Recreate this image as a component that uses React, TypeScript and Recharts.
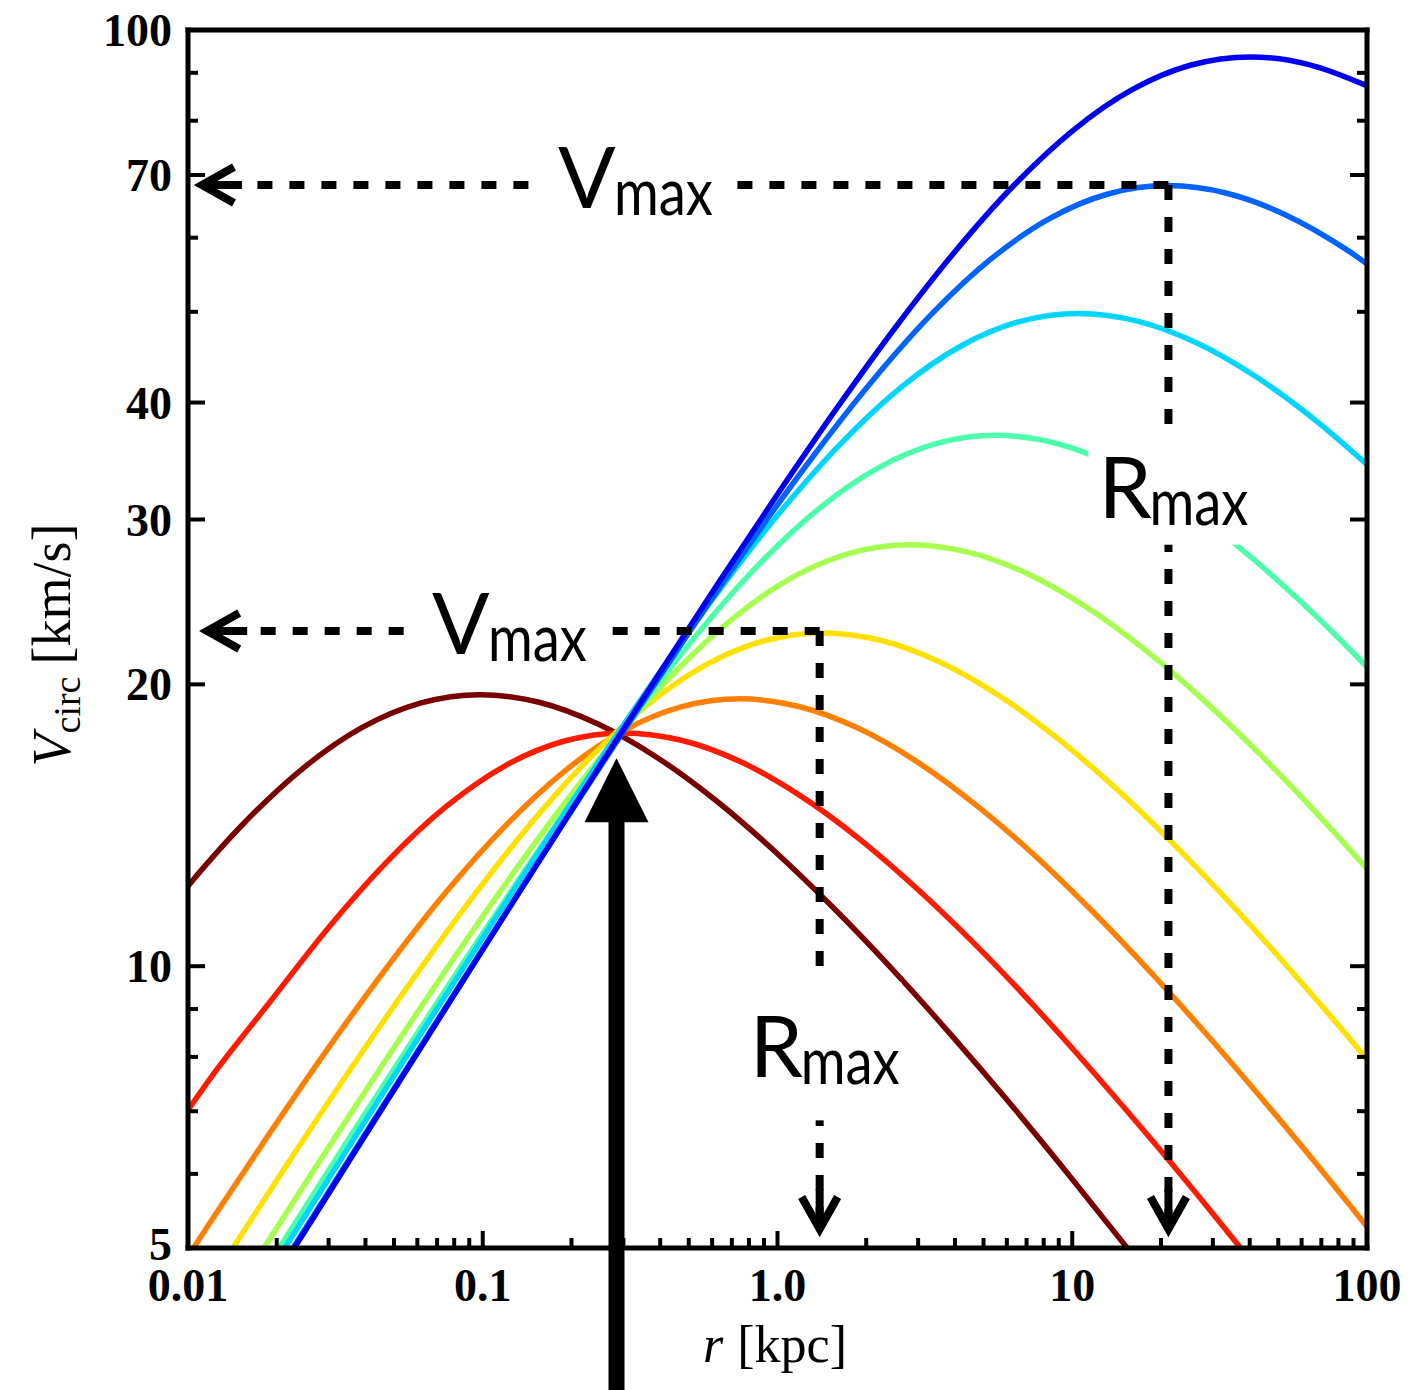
import { ComposedChart, Line, XAxis, YAxis, ReferenceLine, ReferenceDot } from 'recharts';

// Rotation curves: [r (kpc), Vcirc (km/s)]
const haloDarkRed: [number, number][] = [
  [0.00618, 10.05], [0.0098, 12.09], [0.01553, 14.23], [0.02462, 16.28], [0.03901, 17.99],
  [0.06183, 19.11], [0.098, 19.5], [0.1553, 19.14], [0.2462, 18.14], [0.3901, 16.71],
  [0.6183, 15.03], [0.98, 13.26], [1.553, 11.53], [2.462, 9.91], [3.901, 8.43],
  [6.183, 7.12], [9.8, 5.97], [15.53, 4.98], [24.62, 4.14],
];
const haloRed: [number, number][] = [
  [0.00754, 6.15], [0.01194, 7.6], [0.01893, 9.15], [0.03, 11.0], [0.04755, 12.95],
  [0.07536, 14.82], [0.1194, 16.38], [0.1893, 17.4], [0.3, 17.75], [0.4755, 17.42],
  [0.7536, 16.52], [1.194, 15.21], [1.893, 13.68], [3.0, 12.07], [4.755, 10.5],
  [7.536, 9.02], [11.94, 7.67], [18.93, 6.48], [30.0, 5.44], [47.55, 4.54],
];
const haloOrange: [number, number][] = [
  [0.00746, 4.25], [0.01182, 5.31], [0.01874, 6.6], [0.0297, 8.15], [0.04707, 9.95],
  [0.0746, 11.97], [0.1182, 14.08], [0.1874, 16.11], [0.297, 17.81], [0.4707, 18.92],
  [0.746, 19.3], [1.182, 18.94], [1.874, 17.96], [2.97, 16.54], [4.707, 14.87],
  [7.46, 13.13], [11.82, 11.41], [18.74, 9.8], [29.7, 8.34], [47.07, 7.04],
  [74.6, 5.91], [118.2, 4.93],
];
const haloYellow: [number, number][] = [
  [0.00896, 4.0], [0.0142, 5.0], [0.0225, 6.25], [0.03567, 7.77], [0.05653, 9.58],
  [0.0896, 11.7], [0.142, 14.07], [0.2251, 16.56], [0.3567, 18.95], [0.5653, 20.94],
  [0.896, 22.25], [1.42, 22.7], [2.251, 22.28], [3.567, 21.12], [5.653, 19.45],
  [8.96, 17.49], [14.2, 15.44], [22.51, 13.42], [35.67, 11.53], [56.53, 9.81],
  [89.6, 8.29], [142, 6.95],
];
const haloLime: [number, number][] = [
  [0.01123, 3.96], [0.01779, 4.96], [0.0282, 6.22], [0.04469, 7.76], [0.07084, 9.65],
  [0.1123, 11.91], [0.1779, 14.54], [0.282, 17.48], [0.4469, 20.58], [0.7084, 23.54],
  [1.123, 26.02], [1.779, 27.64], [2.82, 28.2], [4.469, 27.67], [7.084, 26.24],
  [11.23, 24.16], [17.79, 21.73], [28.2, 19.18], [44.69, 16.68], [70.84, 14.33],
  [112.3, 12.19],
];
const haloAqua: [number, number][] = [
  [0.01382, 4.12], [0.0219, 5.18], [0.0347, 6.5], [0.055, 8.13], [0.08717, 10.16],
  [0.1382, 12.62], [0.219, 15.58], [0.347, 19.02], [0.55, 22.88], [0.8717, 26.93],
  [1.382, 30.81], [2.19, 34.04], [3.47, 36.17], [5.5, 36.9], [8.717, 36.21],
  [13.82, 34.33], [21.9, 31.62], [34.7, 28.44], [55, 25.1], [87.17, 21.82],
  [138.2, 18.75],
];
const haloCyan: [number, number][] = [
  [0.01664, 4.42], [0.02638, 5.56], [0.0418, 6.99], [0.06625, 8.77], [0.105, 10.98],
  [0.1664, 13.71], [0.2637, 17.04], [0.418, 21.03], [0.6625, 25.68], [1.05, 30.88],
  [1.664, 36.34], [2.637, 41.58], [4.18, 45.94], [6.625, 48.82], [10.5, 49.8],
  [16.64, 48.87], [26.37, 46.34], [41.8, 42.67], [66.25, 38.38], [105, 33.87],
];
const haloAzure: [number, number][] = [
  [0.01331, 3.83], [0.0211, 4.82], [0.03344, 6.06], [0.053, 7.62], [0.084, 9.57],
  [0.1331, 12.01], [0.211, 15.04], [0.3344, 18.77], [0.53, 23.33], [0.84, 28.8],
  [1.331, 35.16], [2.11, 42.28], [3.344, 49.77], [5.3, 56.94], [8.4, 62.92],
  [13.31, 66.85], [21.1, 68.2], [33.44, 66.93], [53.0, 63.46], [84.0, 58.44],
  [133.1, 52.56],
];
const haloBlue: [number, number][] = [
  [0.01596, 4.18], [0.0253, 5.25], [0.0401, 6.61], [0.06355, 8.31], [0.1007, 10.45],
  [0.1596, 13.13], [0.253, 16.48], [0.401, 20.64], [0.6355, 25.77], [1.007, 32.02],
  [1.596, 39.52], [2.53, 48.26], [4.01, 58.03], [6.355, 68.3], [10.07, 78.14],
  [15.96, 86.35], [25.3, 91.75], [40.1, 93.6], [63.55, 91.85], [100.7, 87.09],
];

const haloCurves = [haloDarkRed, haloRed, haloOrange, haloYellow, haloLime, haloAqua, haloCyan, haloAzure, haloBlue];
const haloColors = ['#7a0000', '#ff1a00', '#ff7f00', '#ffe100', '#a5ff4f', '#4dffaa', '#00d5ff', '#0062ff', '#0000f0'];

// axis ticks
const xMajorTicks = [0.01, 0.1, 1, 10, 100];
const xTickLabels = ['0.01', '0.1', '1.0', '10', '100'];
const xMinorTicks = [
  0.02, 0.03, 0.04, 0.05, 0.06, 0.07, 0.08, 0.09,
  0.2, 0.3, 0.4, 0.5, 0.6, 0.7, 0.8, 0.9,
  2, 3, 4, 5, 6, 7, 8, 9,
  20, 30, 40, 50, 60, 70, 80, 90,
];
const yMajorTicks = [5, 10, 20, 30, 40, 70, 100];
const yTickLabels = ['5', '10', '20', '30', '40', '70', '100'];
const yMinorTicks = [6, 7, 8, 9, 50, 60, 80, 90];

// annotations: Vmax / Rmax of the two highlighted halos, and the pivot radius
const vmaxMarks = [68.3, 22.8];
const rmaxMarks = [21.2, 1.39];
const vmaxLabelR = [0.331, 0.1237];
const rmaxLabelV = [32.2, 8.13];
const arrowTipR = [0.01056, 0.011];
const arrowTipV = 5.15;
const pivotR = 0.2843;
const pivotTipV = 16.68;

const serif = '"Liberation Serif", "Times New Roman", serif';
const sans = 'Lato, "Noto Sans", sans-serif';

const W = 1411;
const H = 1390;

const tickStyle = { stroke: '#000', strokeWidth: 4 };

const BottomTick = (p: any) => {
  const i = xMajorTicks.indexOf(p.payload.value);
  return (
    <g>
      <line x1={p.x} y1={p.y} x2={p.x} y2={p.y - (i >= 0 ? 17 : 10)} {...tickStyle} />
      {i >= 0 && (
        <text x={p.x} y={p.y + 53} textAnchor="middle" fontFamily={serif} fontWeight="bold" fontSize={46} fill="#000">
          {xTickLabels[i]}
        </text>
      )}
    </g>
  );
};

const TopTick = (p: any) => {
  const major = xMajorTicks.indexOf(p.payload.value) >= 0;
  return <line x1={p.x} y1={p.y} x2={p.x} y2={p.y + (major ? 17 : 10)} {...tickStyle} />;
};

const LeftTick = (p: any) => {
  const i = yMajorTicks.indexOf(p.payload.value);
  // the bottom label sits a touch higher so it clears "0.01"
  const dy = i === 0 ? 12 : 16;
  return (
    <g>
      <line x1={p.x} y1={p.y} x2={p.x + (i >= 0 ? 17 : 10)} y2={p.y} {...tickStyle} />
      {i >= 0 && (
        <text x={p.x - 16} y={p.y + dy} textAnchor="end" fontFamily={serif} fontWeight="bold" fontSize={46} fill="#000">
          {yTickLabels[i]}
        </text>
      )}
    </g>
  );
};

const RightTick = (p: any) => {
  const major = yMajorTicks.indexOf(p.payload.value) >= 0;
  return <line x1={p.x} y1={p.y} x2={p.x - (major ? 17 : 10)} y2={p.y} {...tickStyle} />;
};

// dashed line ending in an open arrow head, drawn from (x1,y1) to the tip (x2,y2)
const DashedArrow = (p: any) => {
  const { x1, y1, x2, y2 } = p;
  const len = Math.hypot(x2 - x1, y2 - y1) || 1;
  const ux = (x2 - x1) / len;
  const uy = (y2 - y1) / len;
  const ax = x2 - ux * 7;
  const ay = y2 - uy * 7;
  const bx = ax - ux * 32;
  const by = ay - uy * 32;
  const nx = -uy * 18;
  const ny = ux * 18;
  return (
    <g stroke="#000" strokeWidth={8} fill="none">
      <line x1={x1} y1={y1} x2={ax} y2={ay} strokeDasharray="15 17" />
      <line x1={ax - ux * 40} y1={ay - uy * 40} x2={ax} y2={ay} />
      <polyline points={`${bx + nx},${by + ny} ${ax},${ay} ${bx - nx},${by - ny}`} strokeLinejoin="miter" />
    </g>
  );
};

const BigArrow = (p: any) => {
  const x = p.x2;
  const tip = p.y2;
  const base = tip + 64;
  return (
    <g>
      <rect x={x - 8} y={base - 1} width={16} height={p.y1 - base + 1} fill="#000" />
      <polygon points={`${x - 32},${base} ${x + 32},${base} ${x},${tip}`} fill="#000" />
    </g>
  );
};

const MaxLabel = ({ cx, cy, letter, box, mainDx, subDx, mainDy, subDy }: any) => (
  <g>
    <rect x={cx + box[0]} y={cy + box[1]} width={box[2]} height={box[3]} fill="#fff" />
    <text x={cx + mainDx} y={cy + mainDy} fontFamily={sans} fontSize={85} fill="#000">
      {letter}
    </text>
    <text x={cx + subDx} y={cy + subDy} fontFamily={sans} fontSize={63} fill="#000" textLength={99} lengthAdjust="spacingAndGlyphs">
      max
    </text>
  </g>
);

export default function App() {
  return (
    <div style={{ position: 'relative', width: W, height: H, background: '#fff' }}>
      <style>{'body{margin:0;overflow:hidden;background:#fff}'}</style>
      <ComposedChart width={W} height={H} margin={{ top: 0, right: 0, bottom: 0, left: 0 }}>
        <XAxis
          dataKey="r"
          type="number"
          scale="log"
          domain={[0.01, 100]}
          allowDataOverflow
          ticks={[...xMajorTicks, ...xMinorTicks]}
          interval={0}
          height={142}
          tickSize={0}
          tickMargin={0}
          tickLine={false}
          tick={BottomTick}
          axisLine={{ stroke: '#000', strokeWidth: 5, strokeLinecap: 'square' }}
        />
        <XAxis
          xAxisId="top"
          orientation="top"
          type="number"
          scale="log"
          domain={[0.01, 100]}
          allowDataOverflow
          ticks={[...xMajorTicks, ...xMinorTicks]}
          interval={0}
          height={30}
          tickSize={0}
          tickMargin={0}
          tickLine={false}
          tick={TopTick}
          axisLine={{ stroke: '#000', strokeWidth: 5, strokeLinecap: 'square' }}
        />
        <YAxis
          type="number"
          scale="log"
          domain={[5, 100]}
          allowDataOverflow
          ticks={[...yMajorTicks, ...yMinorTicks]}
          interval={0}
          width={188}
          tickSize={0}
          tickMargin={0}
          tickLine={false}
          tick={LeftTick}
          axisLine={{ stroke: '#000', strokeWidth: 5, strokeLinecap: 'square' }}
        />
        <YAxis
          yAxisId="right"
          orientation="right"
          type="number"
          scale="log"
          domain={[5, 100]}
          allowDataOverflow
          ticks={[...yMajorTicks, ...yMinorTicks]}
          interval={0}
          width={44}
          tickSize={0}
          tickMargin={0}
          tickLine={false}
          tick={RightTick}
          axisLine={{ stroke: '#000', strokeWidth: 5, strokeLinecap: 'square' }}
        />

        {haloCurves.map((pts, i) => (
          <Line
            key={i}
            data={pts.map(([r, v]) => ({ r, v }))}
            dataKey="v"
            type="monotone"
            stroke={haloColors[i]}
            strokeWidth={5.5}
            dot={false}
            activeDot={false}
            isAnimationActive={false}
          />
        ))}

        {vmaxMarks.map((v, i) => (
          <ReferenceLine
            key={`h${i}`}
            segment={[{ x: rmaxMarks[i], y: v }, { x: arrowTipR[i], y: v }]}
            ifOverflow="visible"
            zIndex={1500}
            shape={DashedArrow}
          />
        ))}
        {vmaxMarks.map((v, i) => (
          <ReferenceLine
            key={`v${i}`}
            segment={[{ x: rmaxMarks[i], y: v }, { x: rmaxMarks[i], y: arrowTipV }]}
            ifOverflow="visible"
            zIndex={1500}
            shape={DashedArrow}
          />
        ))}

        {vmaxMarks.map((v, i) => (
          <ReferenceDot
            key={`lv${i}`}
            x={vmaxLabelR[i]}
            y={v}
            ifOverflow="visible"
            zIndex={1600}
            shape={(p: any) => (
              <MaxLabel cx={p.cx} cy={p.cy} letter="V" box={[-100, -45, 200, 85]} mainDx={-78} mainDy={23} subDx={-22} subDy={30} />
            )}
          />
        ))}
        {rmaxMarks.map((r, i) => (
          <ReferenceDot
            key={`lr${i}`}
            x={r}
            y={rmaxLabelV[i]}
            ifOverflow="visible"
            zIndex={1600}
            shape={(p: any) => (
              <MaxLabel
                cx={p.cx}
                cy={p.cy}
                letter="R"
                box={i === 0 ? [-80, -54, 164, 108] : [-80, -68, 162, 138]}
                mainDx={-70}
                mainDy={27}
                subDx={-19}
                subDy={34}
              />
            )}
          />
        ))}

        <ReferenceLine
          segment={[{ x: pivotR, y: 3.4 }, { x: pivotR, y: pivotTipV }]}
          ifOverflow="visible"
          zIndex={1700}
          shape={BigArrow}
        />
      </ComposedChart>

      <svg width={W} height={H} style={{ position: 'absolute', left: 0, top: 0, pointerEvents: 'none' }}>
        <text x={775} y={1362} textAnchor="middle" fontFamily={serif} fontSize={52} fill="#000">
          <tspan fontStyle="italic">r</tspan>
          <tspan dx={14}>[kpc]</tspan>
        </text>
        <text transform="translate(70,645) rotate(-90)" textAnchor="middle" fontFamily={serif} fontSize={54} fill="#000">
          <tspan fontStyle="italic">V</tspan>
          <tspan fontSize={38} dy={10}>circ</tspan>
          <tspan dy={-10} dx={12}>[km/s]</tspan>
        </text>
      </svg>
    </div>
  );
}
